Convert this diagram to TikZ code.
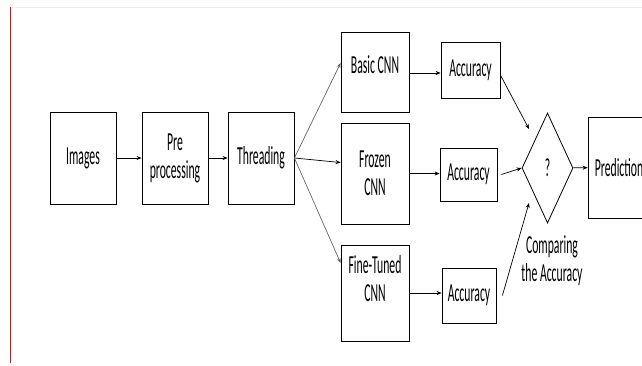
\documentclass[tikz,border=0pt]{standalone}
\usepackage{fontspec}
\setmainfont{Carlito}[FakeStretch=0.45]
\usetikzlibrary{shapes.geometric,arrows.meta}

\begin{document}
\begin{tikzpicture}[x=1pt,y=-1pt,
    box/.style={draw,line width=0.8pt,inner sep=0pt,align=center,
      font=\fontsize{26}{28}\selectfont},
    arr/.style={-{Stealth[length=5pt,width=4pt]},line width=0.7pt}]
    \useasboundingbox (0,0) rectangle (642,365);
    \draw[gray!15] (10,7) -- (642,7);
    \draw[red,line width=1pt] (10.5,7) -- (10.5,363);
    % pipeline
    \node[box,minimum width=66pt,minimum height=92pt] (img) at (83,158) {Images};
    \node[box,minimum width=66pt,minimum height=92pt] (pre) at (175,158)
    {Pre\\processing};
    \node[box,minimum width=66pt,minimum height=92pt] (thr) at (261,158) {Threading};
    % the three networks
    \node[box,minimum width=68pt,minimum height=80pt,text depth=15pt] (basic) at (375,72)
    {Basic CNN};
    \node[box,minimum width=68pt,minimum height=101pt] (frz) at (375,173.5)
    {Frozen\\CNN};
    \node[box,minimum width=68pt,minimum height=96pt,text depth=30pt] (fine) at (375,293)
    {Fine-Tuned\\CNN};
    \node[box,minimum width=59pt,minimum height=56pt] (acc1) at (470.5,70) {Accuracy};
    \node[box,minimum width=57pt,minimum height=53pt] (acc2) at (468.5,174.5) {Accuracy};
    \node[box,minimum width=54pt,minimum height=55pt] (acc3) at (469,295.5) {Accuracy};
    \node[box,shape=diamond,minimum width=51pt,minimum height=110pt] (cmp) at (547.5,168) {?};
    \node[box,minimum width=62pt,minimum height=101pt] (pred) at (619,167.5) {Prediction};
    \node[align=center,font=\fontsize{26}{28}\selectfont] (cmplbl) at (552,261)
    {Comparing\\the Accuracy};
    \coordinate (in1) at (529,129);
    \coordinate (in3) at (529,203);
    % arrows
    \draw[arr] (img) -- (pre);
    \draw[arr] (pre) -- (thr);
    \draw[arr,gray!80!black] (thr.east) -- ([yshift=9pt]basic.west);
    \draw[arr] (thr.east) -- ([yshift=11pt]frz.west);
    \draw[arr,gray!80!black] (thr.east) -- ([yshift=30pt]fine.west);
    \draw[arr] ([yshift=-1pt]basic.east) -- ([yshift=-1pt]basic.east -| acc1.west);
    \draw[arr] (frz.east) -- (frz.east -| acc2.west);
    \draw[arr] (fine.east) -- (fine.east -| acc3.west);
    \draw[arr] ([yshift=-5pt]acc1.east) -- (in1);
    \draw[arr] ([xshift=4pt]acc2.east) -- (cmp.west);
    \draw[arr] ([xshift=6pt]acc3.east) -- (in3);
    \draw[arr] (cmp) -- (pred);
\end{tikzpicture}
\end{document}
